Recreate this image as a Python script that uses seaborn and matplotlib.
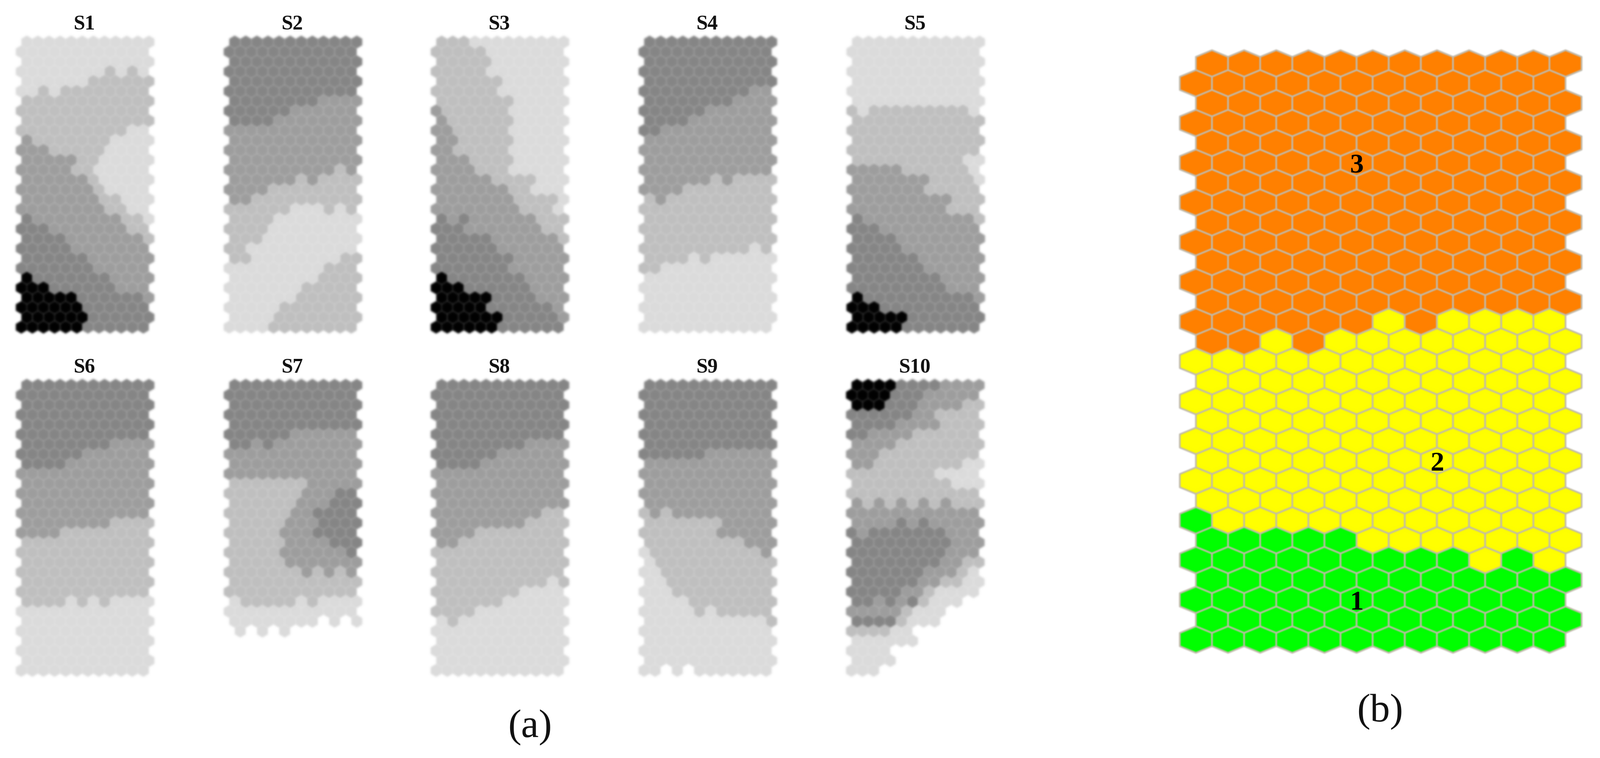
import numpy as np
import pandas as pd
import matplotlib
matplotlib.use("Agg")
import matplotlib.pyplot as plt
import seaborn as sns
from matplotlib.path import Path

sns.set_style("white")
plt.rcParams["font.family"] = ["Liberation Serif", "DejaVu Serif"]

# component planes, one string per map row, "." = no cell
S1 = ["000000000000", "000000000000", "000000000000", "000000001010", "000000111111", "001011111111",
      "111111111111", "111111111111", "111111111111", "111111111100", "211111110000", "222111110000",
      "222221100000", "222221100000", "222222100000", "222222210000", "222222211000", "222222221100",
      "322222222110", "333222222211", "333322222221", "333332222222", "333333222222", "333333322222",
      "433333332222", "444333333222", "444443333332", "444444333333", "444444333333", "444444333333"]
S2 = ["333333333333", "333333333333", "333333333333", "333333333333", "333333333333", "333333333333",
      "333333332222", "333333222222", "333322222222", "222222222222", "222222222222", "222222222222",
      "222222222222", "222222222212", "222222121111", "222211111111", "221111111111", "111111000101",
      "111100000000", "111100000000", "111000000000", "110000000000", "110000000011", "000000000111",
      "000000001111", "000000011111", "000000111111", "000001111111", "000011111111", "000011111111"]
S3 = ["111000000000", "111110000000", "111110000000", "111110000000", "111111000000", "111111000000",
      "111111100000", "211111100000", "211111100000", "221111100000", "221111100000", "221111100000",
      "222111100000", "222211100000", "222221111000", "222222211000", "222222211110", "222222221110",
      "323222222111", "333222222211", "333332222221", "333333222222", "333333322222", "333333322222",
      "433333332222", "444333333222", "444443333222", "444443333332", "444444333332", "444444333333"]
S4 = ["333333333333", "333333333333", "333333333333", "333333333333", "333333333333", "333333333322",
      "333333332222", "333333222222", "333322222222", "332222222222", "222222222222", "222222222222",
      "222222222222", "222222222222", "222222121111", "222211111111", "121111111111", "111111111111",
      "111111111111", "111111111111", "111111111111", "111111111101", "111101000000", "110000000000",
      "000000000000", "000000000000", "000000000000", "000000000000", "000000000000", "000000000000"]
S5 = ["000000000000", "000000000000", "000000000000", "000000000000", "000000000000", "000000000000",
      "000000000000", "101111111110", "111111111111", "111111111111", "111111111111", "111111111111",
      "111111111100", "222221111110", "222222211110", "222222211111", "222222222111", "222222222111",
      "322222222221", "333222222222", "333322222222", "333332222222", "333333222222", "333333322222",
      "333333332222", "333333333222", "433333333332", "444333333333", "444443333333", "444443333333"]
S6 = ["333333333333", "333333333333", "333333333333", "333333333333", "333333333333", "333333333333",
      "333333332222", "333333222222", "333322222222", "222222222222", "222222222222", "222222222222",
      "222222222222", "222222222222", "222222221111", "222211111111", "111111111111", "111111111111",
      "111111111111", "111111111111", "111111111111", "111111111111", "111101010000", "000000000000",
      "000000000000", "000000000000", "000000000000", "000000000000", "000000000000", "000000000000"]
S7 = ["333333333333", "333333333333", "333333333333", "333333333333", "333333333333", "333333222222",
      "332322222222", "222222222222", "222222222222", "222222222222", "111111122222", "111111122233",
      "111111222333", "111111223333", "111112223333", "111112223333", "111112222333", "111112222223",
      "111112222222", "111111121212", "111111111111", "111111111111", "011111010000", "000000000000",
      "00000000.0.0", ".0.0.0......", "............", "............", "............", "............"]
S8 = ["333333333333", "333333333333", "333333333333", "333333333333", "333333333333", "333333333333",
      "333333332222", "333333222222", "333322222222", "222222222222", "222222222222", "222222222222",
      "222222222222", "222222222211", "222222221111", "222211111111", "221111111111", "111111111111",
      "111111111111", "111111111111", "111111111101", "111111110000", "111111000000", "111100000000",
      "010000000000", "000000000000", "000000000000", "000000000000", "000000000000", "000000000000"]
S9 = ["333333333333", "333333333333", "333333333333", "333333333333", "333333333333", "333333333333",
      "333333333333", "333333222222", "222222222222", "222222222222", "222222222222", "222222222222",
      "222222222222", "121222222222", "111111122222", "111111122222", "111111111222", "011111111112",
      "011111111111", "001111111111", "001111111111", "000111111111", "000011111111", "000001011111",
      "000000000001", "000000000000", "000000000000", "000000000000", "000000000000", "00.0.0000000"]
S10 = ["444433332222", "444433322222", "444333222211", "333333221111", "333322221111", "332222111111",
       "222211111111", "222111111111", "221111111100", "111111110000", "111111111000", "111111111111",
       "212121212111", "222222222222", "222232322222", "323333333222", "333333333222", "333333333222",
       "333333332211", "333333322210", "333333221100", "333332210000", "3323231000..", "222221000...",
       "33331000....", "111100......", "000000......", "0000........", "0000........", "000........."]
planes = [S1, S2, S3, S4, S5, S6, S7, S8, S9, S10]
plane_names = ["S1", "S2", "S3", "S4", "S5", "S6", "S7", "S8", "S9", "S10"]

# cluster map: 1 green, 2 yellow, 3 orange
clusters = ["333333333333"] * 13 + ["333333232222", "332322222222"] + ["222222222222"] * 8 + \
           ["122222222222", "111112222222", "111111111212"] + ["111111111111"] * 4
cluster_ids = ["3", "2", "1"]
cluster_label_x = [5.0, 7.5, 5.0]
cluster_label_y = [5.15, 20.15, 27.15]

gray_levels = {"0": "#dcdcdc", "1": "#c0c0c0", "2": "#9e9e9e", "3": "#868686", "4": "#000000"}
cluster_colors = {"1": "#00ff00", "2": "#ffff00", "3": "#ff8000"}

W, H = 3579, 1696
panel_x0 = [60, 525, 988, 1453, 1918, 60, 525, 988, 1453, 1917]
panel_y0 = [94, 94, 94, 94, 94, 862, 862, 862, 862, 862]


def to_frame(rows):
    recs = []
    for r, line in enumerate(rows):
        for c, val in enumerate(line):
            if val != ".":
                recs.append({"x": c + (0.5 if r % 2 == 0 else 0.0), "y": r, "level": val})
    return pd.DataFrame(recs)


def soft(sigma):
    # blur, the source picture is a low resolution scan
    pad = int(4 * sigma)
    t = np.arange(-pad, pad + 1)
    k = np.exp(-t**2 / (2 * sigma**2))
    k /= k.sum()

    def run(img, dpi):
        img = np.pad(img, ((pad, pad), (pad, pad), (0, 0)))
        a = img[..., 3:]
        both = np.concatenate([img[..., :3] * a, a], axis=2)
        for axis in (0, 1):
            both = np.apply_along_axis(lambda m: np.convolve(m, k, mode="same"), axis, both)
        al = np.clip(both[..., 3:], 1e-4, 1)
        out = np.concatenate([np.clip(both[..., :3] / al, 0, 1), both[..., 3:]], axis=2)
        return out, -pad, -pad
    return run


def hex_map(rows, x0, y0, dx, dy, palette, shrink, edge, lw, sigma):
    left = x0 - 1.5 * dx
    top = y0 - dy
    ax = fig.add_axes([left / W, 1 - (top + 31 * dy) / H, 13.5 * dx / W, 31 * dy / H])
    w = dx * shrink
    h = dy / 0.75 * shrink
    verts = [(0, h / 2), (w / 2, h / 4), (w / 2, -h / 4), (0, -h / 2), (-w / 2, -h / 4), (-w / 2, h / 4), (0, h / 2)]
    marker = Path(verts, closed=True)
    size = (2 * max(w / 2, h / 2) * 0.72) ** 2
    sns.scatterplot(data=to_frame(rows), x="x", y="y", hue="level", palette=palette, marker=marker,
                    s=size, edgecolor=edge, linewidth=lw, legend=False, ax=ax)
    ax.collections[-1].set_agg_filter(soft(sigma))
    ax.set_xlim(-1, 12.5)
    ax.set_ylim(30, -1)
    ax.axis("off")
    return ax


fig = plt.figure(figsize=(W / 100, H / 100), dpi=100, facecolor="white")

for rows, name, x0, y0 in zip(planes, plane_names, panel_x0, panel_y0):
    ax = hex_map(rows, x0, y0, 24.83, 22.0, gray_levels, 0.985, "none", 0, 1.7)
    ax.text(5.7, -1.78, name, ha="center", va="center", fontsize=33, fontweight="bold", color="#111111")

ax = hex_map(clusters, 2711, 142, 71.9, 44.45, cluster_colors, 1.0, "#c2bbab", 2.7, 0.9)
for t, tx, ty in zip(cluster_ids, cluster_label_x, cluster_label_y):
    ax.text(tx, ty, t, ha="center", va="center", fontsize=44, fontweight="bold", color="black")

fig.text(1185 / W, 1 - 1628 / H, "(a)", ha="center", va="center", fontsize=64, color="#111111")
fig.text(3087 / W, 1 - 1593 / H, "(b)", ha="center", va="center", fontsize=64, color="#111111")

fig.savefig("out.png", dpi=100, facecolor="white")
